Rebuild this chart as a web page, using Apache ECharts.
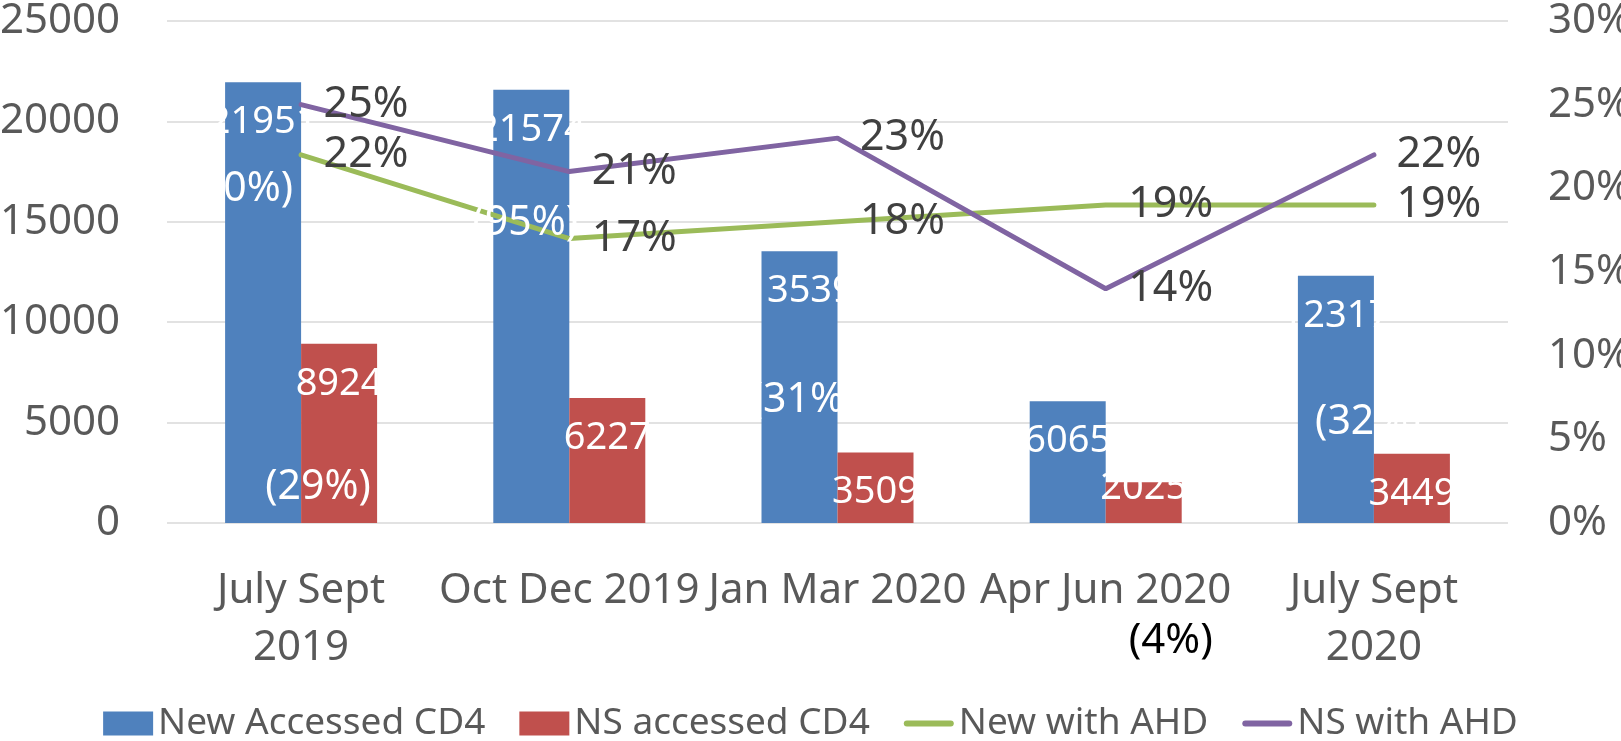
<!DOCTYPE html>
<html>
<head>
<meta charset="utf-8">
<script src="https://cdn.jsdelivr.net/npm/echarts@6/dist/echarts.min.js"></script>
<style>
  html, body { margin: 0; padding: 0; background: #fff; }
  #main { width: 1621px; height: 741px; }
</style>
</head>
<body>
<div id="main"></div>
<script>
// quarters
var categories = ['July Sept\n2019', 'Oct Dec 2019', 'Jan Mar 2020', 'Apr Jun 2020', 'July Sept\n2020'];
// bar values (left axis)
var newCd4 = [21951, 21574, 13539, 6065, 12317];
var nsCd4 = [8924, 6227, 3509, 2025, 3449];
// line values in % (right axis)
var newAhd = [22, 17, 18, 19, 19];
var nsAhd = [25, 21, 23, 14, 22];

var font = 'Noto Sans';
var chart = echarts.init(document.getElementById('main'));

var barLabel = {
    show: true,
    position: 'insideTop',
    distance: 20,
    color: '#fff',
    fontFamily: font,
    fontSize: 38,
    lineHeight: 40
};
var lineLabel = {
    show: true,
    position: 'right',
    distance: 22,
    color: '#404040',
    fontFamily: font,
    fontSize: 43,
    formatter: function (p) { return p.value + '%'; }
};

// short bars keep their label near the bottom
function barData(arr) {
    return arr.map(function (v) {
        return v < 3000 ? { value: v, label: { position: 'insideBottom', distance: 15 } } : v;
    });
}

var lineIcon = 'path://M3.5,0 H53.5 A3.5,3.5 0 0 1 53.5,7 H3.5 A3.5,3.5 0 0 1 3.5,0 Z';

var option = {
    animation: false,
    grid: { left: 167, right: 113, top: 21, bottom: 218, outerBoundsMode: 'none' },
    legend: {
        bottom: -6,
        left: 'center',
        itemWidth: 50,
        itemHeight: 24,
        itemGap: 34,
        textStyle: { fontFamily: font, fontSize: 37, color: '#595959' },
        data: [
            { name: 'New Accessed CD4', icon: 'rect' },
            { name: 'NS accessed CD4', icon: 'rect' },
            { name: 'New with AHD', icon: lineIcon },
            { name: 'NS with AHD', icon: lineIcon }
        ]
    },
    xAxis: {
        type: 'category',
        data: categories,
        axisLine: { show: false },
        axisTick: { show: false },
        axisLabel: {
            interval: 0,
            margin: 40,
            color: '#595959',
            fontFamily: font,
            fontSize: 42,
            lineHeight: 57
        }
    },
    yAxis: [
        {
            type: 'value',
            min: 0,
            max: 25000,
            interval: 5000,
            axisLine: { show: false },
            axisTick: { show: false },
            axisLabel: {
                margin: 47, color: '#595959', fontFamily: font, fontSize: 42,
                formatter: function (v) { return String(v); }
            },
            splitLine: { lineStyle: { color: '#d9d9d9', width: 1.5 } }
        },
        {
            type: 'value',
            min: 0,
            max: 30,
            interval: 5,
            axisLine: { show: false },
            axisTick: { show: false },
            axisLabel: { margin: 40, color: '#595959', fontFamily: font, fontSize: 42, formatter: '{value}%' },
            splitLine: { show: false }
        }
    ],
    series: [
        {
            name: 'New Accessed CD4',
            type: 'bar',
            barWidth: 76,
            barGap: '0%',
            itemStyle: { color: '#4f81bd' },
            label: barLabel,
            data: barData(newCd4)
        },
        {
            name: 'NS accessed CD4',
            type: 'bar',
            barWidth: 76,
            barGap: '0%',
            itemStyle: { color: '#c0504d' },
            label: barLabel,
            data: barData(nsCd4)
        },
        {
            name: 'New with AHD',
            type: 'line',
            yAxisIndex: 1,
            symbol: 'circle',
            symbolSize: 1,
            showSymbol: true,
            itemStyle: { color: '#9bbb59' },
            lineStyle: { color: '#9bbb59', width: 5, cap: 'round' },
            label: lineLabel,
            data: newAhd
        },
        {
            name: 'NS with AHD',
            type: 'line',
            yAxisIndex: 1,
            symbol: 'circle',
            symbolSize: 1,
            showSymbol: true,
            itemStyle: { color: '#8064a2' },
            lineStyle: { color: '#8064a2', width: 5, cap: 'round' },
            label: lineLabel,
            data: nsAhd
        }
    ]
};
chart.setOption(option);

// stray percentage notes that sit on top of the picture
var notes = [
    { text: '(0%)', cat: 0, level: 16600, dx: -49, color: '#fff' },
    { text: '(95%)', cat: 1, level: 14900, dx: -44, color: '#fff' },
    { text: '(31%)', cat: 2, level: 6100, dx: -34, color: '#fff' },
    { text: '(32%)', cat: 4, level: 5000, dx: -6, color: '#fff' },
    { text: '(29%)', cat: 0, level: 1800, dx: 17, color: '#fff' },
    { text: '(4%)', cat: 3, level: -5900, dx: 65, color: '#000' }
];
var elements = notes.map(function (n) {
    var pt = chart.convertToPixel({ xAxisIndex: 0, yAxisIndex: 0 }, [n.cat, n.level]);
    return {
        type: 'text',
        x: pt[0] + n.dx,
        y: pt[1],
        z: 100,
        style: {
            text: n.text,
            fill: n.color,
            font: (n.color === '#000' ? 42 : 41) + 'px "Noto Sans"',
            textAlign: 'center',
            textVerticalAlign: 'middle'
        }
    };
});
chart.setOption({ graphic: elements });
</script>
</body>
</html>
